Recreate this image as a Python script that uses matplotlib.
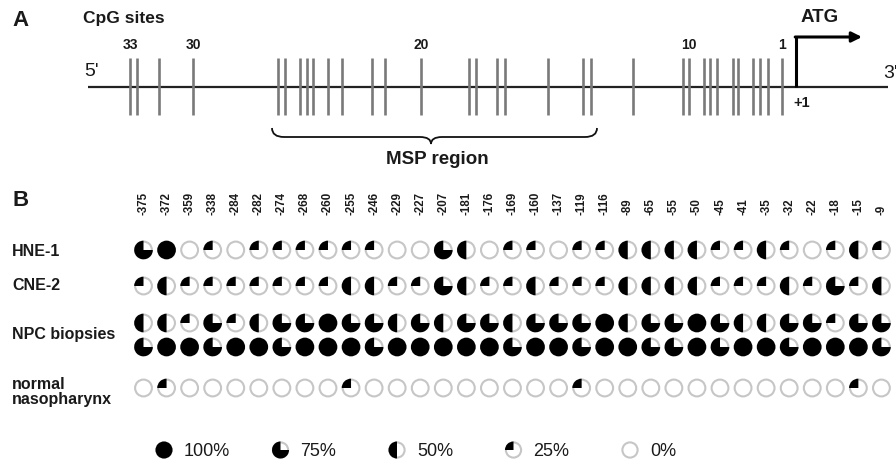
import matplotlib
matplotlib.use('Agg')
import matplotlib.pyplot as plt
from matplotlib.patches import Wedge, Circle, PathPatch
from matplotlib.path import Path

# ---------------- data ----------------
cpg_positions = [-375, -372, -359, -338, -284, -282, -274, -268, -260, -255, -246,
                 -229, -227, -207, -181, -176, -169, -160, -137, -119, -116, -89,
                 -65, -55, -50, -45, -41, -35, -32, -22, -18, -15, -9]
# schematic position of each CpG site on the promoter map (panel A), 5' -> 3'
site_map_pos = [130, 137, 159, 193, 278, 285, 300, 307, 313, 328, 342, 372, 385,
                421, 469, 476, 497, 505, 548, 583, 591, 633, 683, 689, 704, 710,
                717, 733, 738, 753, 760, 768, 782]
labeled_sites = [33, 30, 20, 10, 1]

row_labels = ["HNE-1", "CNE-2", "NPC biopsies", "normal\nnasopharynx"]
hne1 = [75, 100, 0, 25, 0, 25, 25, 25, 25, 25, 25, 0, 0, 75, 50, 0, 25, 25, 0, 25,
        25, 50, 50, 50, 50, 25, 25, 50, 25, 0, 25, 50, 25]
cne2 = [25, 50, 25, 25, 25, 25, 25, 25, 25, 50, 50, 25, 25, 75, 50, 25, 25, 50, 25,
        25, 25, 50, 50, 50, 50, 25, 25, 25, 50, 25, 75, 25, 50]
npc_a = [50, 50, 25, 75, 25, 50, 75, 75, 100, 75, 75, 50, 75, 50, 75, 75, 50, 75, 75,
         75, 100, 50, 75, 75, 100, 75, 50, 50, 75, 75, 25, 75, 75]
npc_b = [75, 100, 100, 75, 100, 100, 75, 100, 100, 100, 75, 100, 100, 100, 100, 100,
         75, 100, 100, 75, 100, 100, 75, 75, 100, 75, 100, 100, 75, 100, 100, 100, 75]
normal = [0, 25, 0, 0, 0, 0, 0, 0, 0, 25, 0, 0, 0, 0, 0, 0, 0, 0, 0, 25, 0, 0, 0, 0,
          0, 0, 0, 0, 0, 0, 0, 25, 0]
legend_levels = [100, 75, 50, 25, 0]

# ---------------- layout / style ----------------
plt.rcParams['font.family'] = ['Liberation Sans', 'DejaVu Sans']
TXT = '#1a1a1a'
GRAY_RING = '#c6c6c6'
TICK_GRAY = '#7a7a7a'

fig = plt.figure(figsize=(8.96, 4.63), dpi=100)
ax = fig.add_axes([0, 0, 1, 1])
ax.set_xlim(0, 896)
ax.set_ylim(463, 0)
ax.axis('off')

# ---------- Panel A ----------
ax.text(12, 20, 'A', fontsize=16, fontweight='bold', color=TXT, va='center', ha='left')
ax.text(83, 18, 'CpG sites', fontsize=12.5, fontweight='bold', color=TXT, va='center', ha='left')

line_y = 87
ax.plot([88, 888], [line_y, line_y], color='#222222', lw=1.6, solid_capstyle='butt', zorder=2)
ax.text(84, 72, "5'", fontsize=14, color=TXT, va='center', ha='left')
ax.text(883, 73, "3'", fontsize=14, color=TXT, va='center', ha='left')

ax.vlines(site_map_pos, 58, 115, colors=TICK_GRAY, lw=1.9, zorder=3)
n_sites = len(site_map_pos)
for s in labeled_sites:
    ax.text(site_map_pos[n_sites - s], 45, str(s), fontsize=10, fontweight='bold',
            color=TXT, ha='center', va='center')

# ATG arrow
tss_x = 796
ax.plot([tss_x, tss_x], [line_y, 37], color='black', lw=2.2, solid_capstyle='butt', zorder=4)
ax.annotate('', xy=(862, 37), xytext=(tss_x - 0.8, 37),
            arrowprops=dict(arrowstyle='-|>', lw=2.2, color='black', mutation_scale=15,
                            shrinkA=0, shrinkB=0))
ax.text(820, 18, 'ATG', fontsize=13.5, fontweight='bold', color=TXT, ha='center', va='center')
ax.text(802, 103, '+1', fontsize=10.5, fontweight='bold', color=TXT, ha='center', va='center')

# MSP brace
bl, br, by, tip = 272, 597, 137, 431
verts = [(bl, by - 9), (bl, by), (bl + 12, by),
         (tip - 11, by),
         (tip, by), (tip, by + 7),
         (tip, by), (tip + 11, by),
         (br - 12, by),
         (br, by), (br, by - 9)]
codes = [Path.MOVETO, Path.CURVE3, Path.CURVE3,
         Path.LINETO,
         Path.CURVE3, Path.CURVE3,
         Path.CURVE3, Path.CURVE3,
         Path.LINETO,
         Path.CURVE3, Path.CURVE3]
ax.add_patch(PathPatch(Path(verts, codes), facecolor='none', edgecolor='#111111', lw=1.3))
ax.text(437, 160, 'MSP region', fontsize=13.5, fontweight='bold', color=TXT, ha='center', va='center')

# ---------- Panel B ----------
ax.text(12, 201, 'B', fontsize=16, fontweight='bold', color=TXT, va='center', ha='left')

col_x0, col_dx = 143.5, 23.06
R = 8.4


def glyph(x, y, v, r=R):
    ax.add_patch(Circle((x, y), r, facecolor='white', edgecolor=GRAY_RING, lw=1.5, zorder=5))
    if v >= 100:
        ax.add_patch(Circle((x, y), r + 0.9, facecolor='black', edgecolor='none', zorder=6))
    elif v > 0:
        ax.add_patch(Wedge((x, y), r + 0.9, 270 - 3.6 * v, 270, facecolor='black',
                           edgecolor='none', zorder=6))


for i, p in enumerate(cpg_positions):
    ax.text(col_x0 + i * col_dx, 215, str(p), rotation=90, fontsize=8.3, fontweight='bold',
            color=TXT, ha='center', va='bottom')

rows = [hne1, cne2, npc_a, npc_b, normal]
row_y = [250, 286, 323, 347, 388]
for vals, y in zip(rows, row_y):
    for i, v in enumerate(vals):
        glyph(col_x0 + i * col_dx, y, v)

label_y = [251, 286, 334, 392]
for lab, y in zip(row_labels, label_y):
    ax.text(12, y, lab, fontsize=11.5, fontweight='bold', color=TXT, ha='left', va='center',
            linespacing=0.95)

# legend
leg_x0, leg_dx, leg_y = 164, 116.5, 450
for k, lv in enumerate(legend_levels):
    gx = leg_x0 + k * leg_dx
    glyph(gx, leg_y, lv, r=7.6)
    ax.text(gx + 20, leg_y + 1, f'{lv}%', fontsize=13, color=TXT, ha='left', va='center')

fig.savefig('out.png', dpi=100)
